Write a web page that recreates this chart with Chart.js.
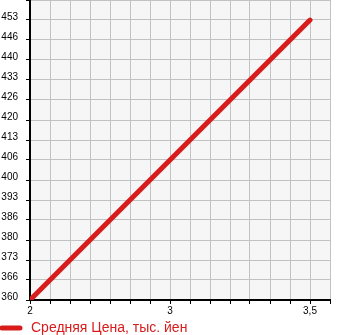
<!DOCTYPE html>
<html>
<head>
<meta charset="utf-8">
<script src="https://cdn.jsdelivr.net/npm/chart.js@4/dist/chart.umd.min.js"></script>
<style>
html,body{margin:0;padding:0;background:#fff;}
#wrap{width:345px;height:335px;position:relative;}
</style>
</head>
<body>
<div id="wrap"><canvas id="c" width="345" height="335"></canvas></div>
<script>
const categories = ['2', '3', '3,5'];
const values = [360, 406.7, 453.3];
const seriesLabel = 'Средняя Цена, тыс. йен';
const yMin = 360, yMax = 460, yStep = 100 / 15;
const gridPerCategory = 7, gridCount = 15;

const red = 'rgb(216,28,28)';
const font = 'Liberation Sans, Arial, sans-serif';

const plotBg = {
  id: 'plotBg',
  beforeDraw(chart) {
    const {ctx, chartArea: a} = chart;
    ctx.save();
    ctx.fillStyle = '#f6f6f6';
    ctx.fillRect(a.left, a.top, a.right - a.left, a.bottom - a.top);
    ctx.restore();
  },
  afterDraw(chart) {
    const {ctx} = chart;
    const ds = chart.data.datasets[0];
    ctx.save();
    ctx.strokeStyle = ds.borderColor;
    ctx.lineWidth = 5;
    ctx.lineCap = 'round';
    ctx.beginPath();
    ctx.moveTo(2, 328);
    ctx.lineTo(20, 328);
    ctx.stroke();
    ctx.fillStyle = ds.borderColor;
    ctx.font = '14px ' + font;
    ctx.textBaseline = 'middle';
    ctx.fillText(ds.label, 31, 328);
    ctx.restore();
  }
};

new Chart(document.getElementById('c'), {
  type: 'line',
  data: {
    datasets: [{
      label: seriesLabel,
      data: categories.map((c, i) => ({x: i * gridPerCategory, y: values[i]})),
      borderColor: red,
      backgroundColor: red,
      borderWidth: 5,
      borderCapStyle: 'round',
      pointRadius: 0,
      tension: 0
    }]
  },
  options: {
    responsive: false,
    animation: false,
    layout: {padding: {left: 0, right: 15, top: 0, bottom: 17}},
    plugins: {legend: {display: false}, tooltip: {enabled: false}},
    scales: {
      x: {
        type: 'linear',
        min: 0,
        max: gridCount,
        afterFit(s) { s.height = 18; s.paddingLeft = 0; s.paddingRight = 0; },
        border: {color: '#000', width: 2},
        grid: {color: '#c2c2c2', lineWidth: 1, tickColor: '#000', tickLength: 4},
        ticks: {
          stepSize: 1,
          autoSkip: false,
          maxRotation: 0,
          padding: 1,
          color: '#000',
          font: {family: font, size: 10},
          callback(v) { return v % gridPerCategory === 0 ? (categories[v / gridPerCategory] || '') : ''; }
        }
      },
      y: {
        min: yMin,
        max: yMax,
        afterFit(s) { s.width = 30; s.paddingTop = 0; s.paddingBottom = 0; },
        afterBuildTicks(s) {
          const t = [];
          for (let k = 0; k <= 15; k++) t.push({value: yMin + k * yStep});
          s.ticks = t;
        },
        border: {color: '#000', width: 2},
        grid: {color: '#c2c2c2', lineWidth: 1, tickColor: '#000', tickLength: 4},
        ticks: {
          padding: 8,
          labelOffset: -3,
          color: '#000',
          font: {family: font, size: 10},
          callback(v) { return v >= yMax - 0.01 ? '' : String(Math.floor(v + 1e-6)); }
        }
      }
    }
  },
  plugins: [plotBg]
});
</script>
</body>
</html>
